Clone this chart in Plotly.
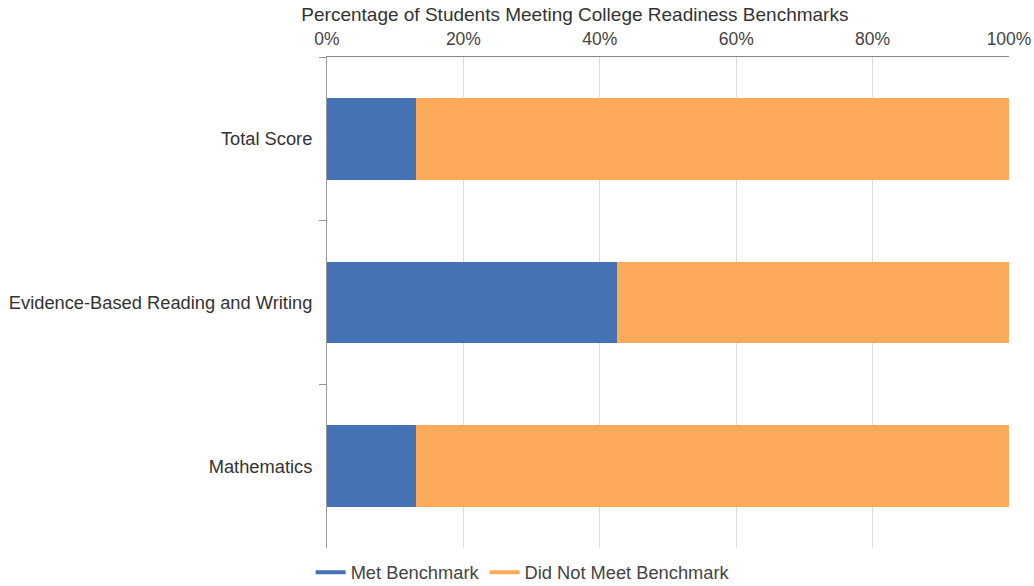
import plotly.graph_objects as go

categories = ["Total Score", "Evidence-Based Reading and Writing", "Mathematics"]
met = [13, 42.5, 13]
not_met = [87, 57.5, 87]
series_names = ["Met Benchmark", "Did Not Meet Benchmark"]
tick_vals = [0, 20, 40, 60, 80, 100]
tick_text = ["0%", "20%", "40%", "60%", "80%", "100%"]

colors = ["#4472b4", "#fdaa5b"]

fig = go.Figure()
for name, vals, c in zip(series_names, [met, not_met], colors):
    fig.add_trace(go.Bar(y=categories, x=vals, orientation="h", name=name,
                         marker=dict(color=c, line=dict(width=0)),
                         showlegend=False, hoverinfo="x+y+name"))
for name, c in zip(series_names, colors):
    fig.add_trace(go.Scatter(x=[None], y=[None], mode="lines", name=name,
                             line=dict(color=c, width=4), showlegend=True))

fig.update_layout(
    barmode="stack",
    bargap=0.5,
    width=1034, height=586,
    margin=dict(l=327, r=25, t=57, b=38, autoexpand=False),
    paper_bgcolor="white", plot_bgcolor="white",
    font=dict(family="Liberation Sans, Arial, sans-serif", size=18, color="#444"),
    title=dict(text="Percentage of Students Meeting College Readiness Benchmarks",
               x=0.556, xanchor="center", y=0.975, yanchor="middle",
               font=dict(size=19, color="#333")),
    xaxis=dict(side="top", range=[0, 100], tickvals=tick_vals, ticktext=tick_text,
               showgrid=True, gridcolor="#dcdcdc", gridwidth=1,
               showline=True, linecolor="#888", linewidth=1,
               ticks="", zeroline=False, fixedrange=True, ticklabelstandoff=4,
               tickfont=dict(size=17.5, color="#444")),
    yaxis=dict(autorange="reversed", showline=True, linecolor="#999", linewidth=1,
               ticks="outside", tickson="boundaries", ticklen=7, tickcolor="#999",
               ticklabelstandoff=10,
               showgrid=False, tickfont=dict(size=18.3, color="#333")),
    legend=dict(orientation="h", x=-0.024, xanchor="left", y=-0.012, yanchor="top",
                font=dict(size=18.3, color="#444"), traceorder="normal"),
)

fig.write_html("out.html", config={"displayModeBar": False})
with open("out.html", "r", encoding="utf-8") as f:
    html = f.read()
html = html.replace("<body>", '<body style="margin:0;overflow:hidden">', 1)
with open("out.html", "w", encoding="utf-8") as f:
    f.write(html)
